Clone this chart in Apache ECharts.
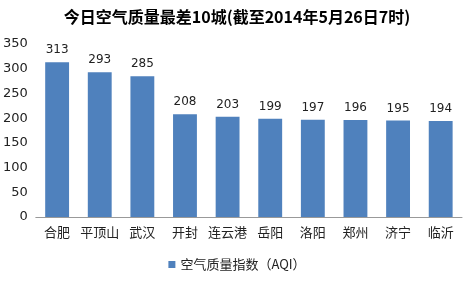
<!DOCTYPE html>
<html><head><meta charset="utf-8">
<script src="https://cdn.jsdelivr.net/npm/echarts@6/dist/echarts.min.js"></script>
<style>html,body{margin:0;padding:0;background:#fff}#c{width:474px;height:283px}</style>
</head><body><div id="c"></div>
<script>
const cities = ['合肥','平顶山','武汉','开封','连云港','岳阳','洛阳','郑州','济宁','临沂'];
const aqi = [313,293,285,208,203,199,197,196,195,194];
const seriesName = '空气质量指数（AQI）';
const titleText = '今日空气质量最差10城(截至2014年5月26日7时)';
const chart = echarts.init(document.getElementById('c'));
chart.setOption({
  animation:false,
  textStyle:{fontFamily:'"Noto Sans CJK SC", sans-serif'},
  title:{text:titleText,left:'center',top:4,textStyle:{fontSize:16,fontWeight:'bold',color:'#000',fontFamily:'"Noto Sans CJK SC", sans-serif'}},
  legend:{bottom:7,left:'center',itemWidth:7,itemHeight:7,itemGap:4,icon:'rect',textStyle:{fontSize:13,color:'#222'},data:[seriesName]},
  grid:{left:35,right:12,top:44,bottom:66},
  xAxis:{type:'category',data:cities,axisTick:{show:false},axisLine:{lineStyle:{color:'#999'}},
    axisLabel:{fontSize:13,color:'#222',margin:9,interval:0}},
  yAxis:{type:'value',min:0,max:350,interval:50,splitLine:{show:false},axisLine:{show:false},axisTick:{show:false},
    axisLabel:{fontSize:13,color:'#222',margin:8,fontFamily:'"DejaVu Sans", sans-serif'}},
  series:[{name:seriesName,type:'bar',data:aqi,barWidth:'56%',itemStyle:{color:'#4F81BD'},
    label:{show:true,position:'top',fontSize:12,color:'#222',distance:6,fontFamily:'"DejaVu Sans", sans-serif'}}]
});
</script></body></html>
